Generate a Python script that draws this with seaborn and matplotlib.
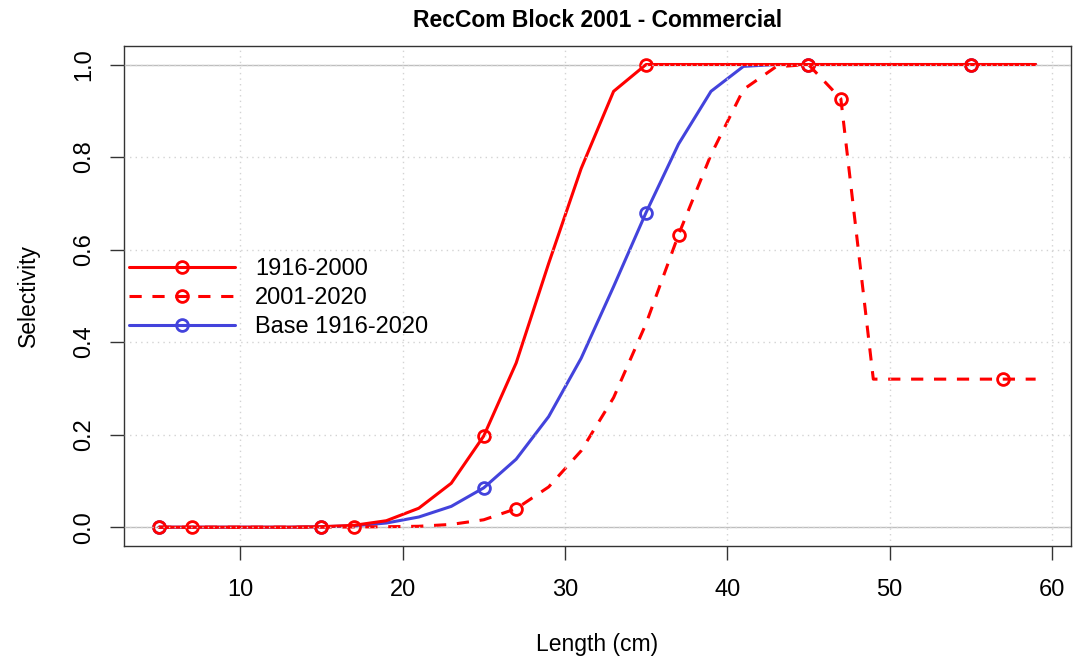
import numpy as np
import pandas as pd
import matplotlib
matplotlib.use("Agg")
import matplotlib.pyplot as plt
from matplotlib.lines import Line2D
import seaborn as sns

# ---- data ----
length = [5, 7, 9, 11, 13, 15, 17, 19, 21, 23, 25, 27, 29, 31, 33, 35, 37, 39,
          41, 43, 45, 47, 49, 51, 53, 55, 57, 59]
sel_1916_2000 = [0.0, 0.0, 0.0, 0.0, 0.0, 0.001, 0.004, 0.014, 0.041, 0.095, 0.197,
                 0.355, 0.57, 0.775, 0.942, 1.0, 1.0, 1.0, 1.0, 1.0, 1.0, 1.0,
                 1.0, 1.0, 1.0, 1.0, 1.0, 1.0]
sel_2001_2020 = [0.0, 0.0, 0.0, 0.0, 0.0, 0.0, 0.0005, 0.001, 0.002, 0.006, 0.016,
                 0.040, 0.087, 0.165, 0.28, 0.44, 0.632, 0.805, 0.946, 0.995, 1.0,
                 0.926, 0.32, 0.32, 0.32, 0.32, 0.32, 0.32]
sel_base = [0.0, 0.0, 0.0, 0.0, 0.0, 0.001, 0.003, 0.009, 0.022, 0.045, 0.085,
            0.147, 0.239, 0.365, 0.52, 0.68, 0.828, 0.942, 0.996, 1.0, 1.0, 1.0,
            1.0, 1.0, 1.0, 1.0, 1.0, 1.0]
labels = ["1916-2000", "2001-2020", "Base 1916-2020"]
title = "RecCom Block 2001 - Commercial"
x_ticks = [10, 20, 30, 40, 50, 60]
y_ticks = [0.0, 0.2, 0.4, 0.6, 0.8, 1.0]

sns.set_style("white")
plt.rcParams["font.family"] = ["Liberation Sans", "DejaVu Sans"]
plt.rcParams["text.color"] = "black"
plt.rcParams["axes.labelcolor"] = "black"
plt.rcParams["xtick.color"] = "black"
plt.rcParams["ytick.color"] = "black"

RED = "#FF0000"
BLUE = "#4343DC"

fig = plt.figure(figsize=(10.73, 6.58), dpi=100)
ax = fig.add_axes([124 / 1073, 1 - 545.7 / 658, (1070.7 - 124) / 1073, (545.7 - 46) / 658])

df = pd.DataFrame({"Length": length, "a": sel_1916_2000, "b": sel_2001_2020, "c": sel_base})

lw = 2.2
mk = dict(marker="o", markersize=8.5, markerfacecolor="none", markeredgewidth=2.0)

# reference gray lines at 0 and 1
ax.axhline(0, color="#BEBEBE", lw=1, zorder=1)
ax.axhline(1, color="#BEBEBE", lw=1, zorder=1)

sns.lineplot(data=df, x="Length", y="c", ax=ax, color=BLUE, lw=lw,
             markevery=(0, 5), markeredgecolor=BLUE, zorder=2, **mk)
sns.lineplot(data=df, x="Length", y="b", ax=ax, color=RED, lw=lw,
             linestyle=(0, (4, 3.5)), markevery=(1, 5), markeredgecolor=RED, zorder=2, **mk)
sns.lineplot(data=df, x="Length", y="a", ax=ax, color=RED, lw=lw,
             markevery=(0, 5), markeredgecolor=RED, zorder=2, **mk)

ax.set_xlim(2.84, 61.16)
ax.set_ylim(-0.04, 1.04)
ax.set_xticks(x_ticks)
ax.set_yticks(y_ticks)
ax.set_xticklabels([str(t) for t in x_ticks])
ax.set_yticklabels([f"{t:.1f}" for t in y_ticks], rotation=90, va="center")

# dotted grid on top
ax.set_axisbelow(False)
ax.grid(True, color="#D3D3D3", linestyle=(0, (1, 3)), lw=1.0, zorder=3)
for gl in ax.get_xgridlines() + ax.get_ygridlines():
    gl.set_zorder(3)

for s in ax.spines.values():
    s.set_color("#333333")
    s.set_linewidth(1.0)
ax.tick_params(axis="both", direction="out", length=10, width=1.0, color="#333333",
               labelsize=17, bottom=True, left=True)
ax.tick_params(axis="x", pad=14)
ax.tick_params(axis="y", pad=10.5)

ax.set_xlabel("Length (cm)", fontsize=16.5, labelpad=23)
ax.set_ylabel("Selectivity", fontsize=16.5, labelpad=24)
ax.set_title(title, fontsize=16.5, fontweight="bold", pad=13.5)

handles = [
    Line2D([], [], color=RED, lw=lw, **mk, markeredgecolor=RED),
    Line2D([], [], color=RED, lw=lw, linestyle=(0, (4, 3.5)), **mk, markeredgecolor=RED),
    Line2D([], [], color=BLUE, lw=lw, **mk, markeredgecolor=BLUE),
]
leg = ax.legend(handles, labels, loc="center left", bbox_to_anchor=(0.0, 0.495),
                frameon=False, fontsize=17, handlelength=4.5, handletextpad=0.85,
                labelspacing=0.3, borderaxespad=0.0, borderpad=0.2, numpoints=1)

fig.savefig("out.png", dpi=100)
